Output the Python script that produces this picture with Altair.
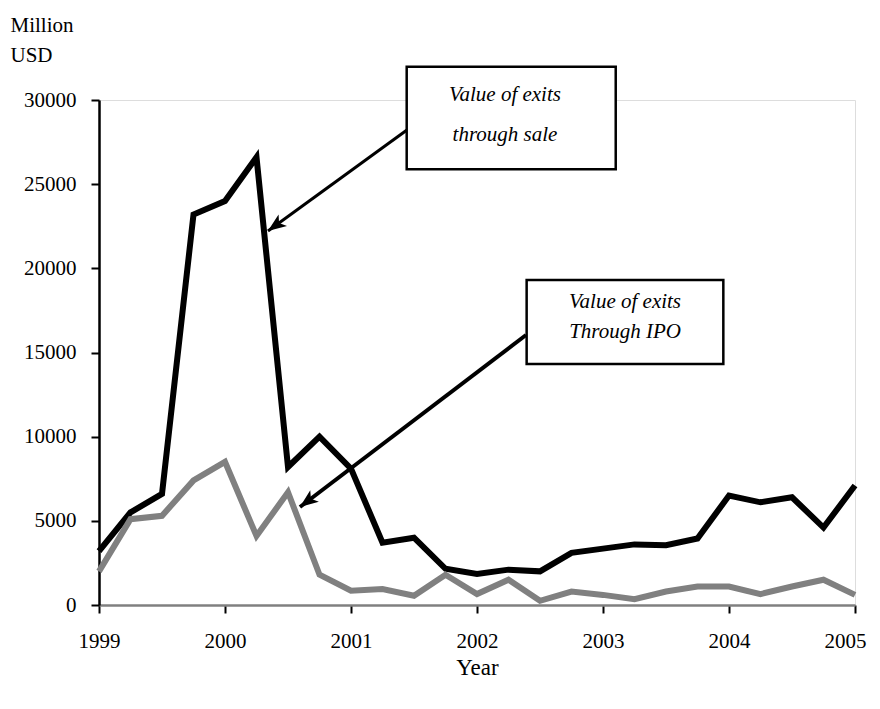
import altair as alt
import pandas as pd

# Quarterly periods, 1999 Q1 .. 2005 Q1
periods = ["1999Q1", "1999Q2", "1999Q3", "1999Q4",
           "2000Q1", "2000Q2", "2000Q3", "2000Q4",
           "2001Q1", "2001Q2", "2001Q3", "2001Q4",
           "2002Q1", "2002Q2", "2002Q3", "2002Q4",
           "2003Q1", "2003Q2", "2003Q3", "2003Q4",
           "2004Q1", "2004Q2", "2004Q3", "2004Q4",
           "2005Q1"]

sale_values = [3200, 5500, 6600, 23200, 24000, 26600, 8200, 10000,
               8100, 3700, 4000, 2150, 1850, 2100, 2000, 3100,
               3350, 3600, 3550, 3950, 6500, 6100, 6400, 4600, 7100]

ipo_values = [2000, 5100, 5300, 7400, 8500, 4100, 6700, 1800,
              850, 950, 550, 1800, 650, 1500, 250, 800,
              600, 350, 800, 1100, 1100, 650, 1100, 1500, 600]

year_ticks = [1999, 2000, 2001, 2002, 2003, 2004, 2005]
value_ticks = [0, 5000, 10000, 15000, 20000, 25000, 30000]

# annotation boxes (data coordinates)
box_labels = [["Value of exits", "through sale"], ["Value of exits", "Through IPO"]]
box_x = [2001.442, 2002.394]
box_x2 = [2003.101, 2003.955]
box_y = [31980, 19308]
box_y2 = [25885, 14318]
text_x = [2002.222, 2003.175]
text_y1 = [30300, 18001]
text_y2 = [27923, 16219]

# arrows (start at box, end at series)
arrow_x = [2001.444, 2002.389]
arrow_y = [28220, 16040]
arrow_x2 = [2000.341, 2000.595]
arrow_y2 = [22220, 5820]
arrow_w = [3, 4]
head_x = [2000.406, 2000.659]
head_y = [22570, 6185]
head_angle = [234, 233]


def to_year(p):
    return int(p[:4]) + (int(p[5]) - 1) / 4


df = pd.DataFrame({
    "t": [to_year(p) for p in periods] * 2,
    "value": sale_values + ipo_values,
    "series": ["sale"] * len(periods) + ["ipo"] * len(periods),
})

FONT = "Liberation Serif"

xs = alt.Scale(domain=[1999, 2005], nice=False, zero=False)
ys = alt.Scale(domain=[0, 30000], nice=False)

x_axis = alt.Axis(values=year_ticks, format="d", title="Year", grid=False,
                  domainColor="#808080", domainWidth=2.5,
                  tickColor="black", tickWidth=2, tickSize=8,
                  labelFont=FONT, labelFontSize=21, labelColor="black",
                  labelPadding=17, labelFlush=False, labelOverlap=False,
                  labelOffset={"expr": "datum.value == 2005 ? -10 : 0"},
                  titleFont=FONT, titleFontSize=23,
                  titleFontWeight="normal", titleColor="black", titlePadding=5)
y_axis = alt.Axis(values=value_ticks, format="d", grid=False, title=["Million", "USD"],
                  domainColor="black", domainWidth=2.5,
                  tickColor="black", tickWidth=2, tickSize=8,
                  labelFont=FONT, labelFontSize=21, labelColor="black",
                  labelPadding=15, labelFlush=False, labelOverlap=False,
                  titleFont=FONT, titleFontSize=21,
                  titleFontWeight="normal", titleColor="black",
                  titleAngle=0, titleAlign="left", titleBaseline="alphabetic",
                  titleX=-89, titleY=-69, titleLineHeight=30)

base = alt.Chart(df)

sale_line = base.transform_filter(alt.datum.series == "sale").mark_line(
    color="black", strokeWidth=6, strokeJoin="miter"
).encode(
    x=alt.X("t:Q", scale=xs, axis=x_axis),
    y=alt.Y("value:Q", scale=ys, axis=y_axis),
)
ipo_line = base.transform_filter(alt.datum.series == "ipo").mark_line(
    color="#808080", strokeWidth=6, strokeJoin="miter"
).encode(
    x=alt.X("t:Q", scale=xs),
    y=alt.Y("value:Q", scale=ys),
)

ann = pd.DataFrame({
    "bx": box_x, "bx2": box_x2, "by": box_y, "by2": box_y2,
    "tx": text_x, "ty1": text_y1, "ty2": text_y2,
    "l1": [b[0] for b in box_labels], "l2": [b[1] for b in box_labels],
    "ax": arrow_x, "ay": arrow_y, "ax2": arrow_x2, "ay2": arrow_y2,
    "aw": arrow_w, "hx": head_x, "hy": head_y, "ha": head_angle,
})
abase = alt.Chart(ann)

arrows = abase.mark_rule(color="black").encode(
    x=alt.X("ax:Q", scale=xs), y=alt.Y("ay:Q", scale=ys),
    x2="ax2:Q", y2="ay2:Q",
    strokeWidth=alt.StrokeWidth("aw:Q", scale=None),
)
heads = abase.mark_point(
    shape="M0,-1L0.7,0.8L0,0.35L-0.7,0.8Z", filled=True, color="black",
    size=420, opacity=1,
).encode(
    x=alt.X("hx:Q", scale=xs), y=alt.Y("hy:Q", scale=ys),
    angle=alt.Angle("ha:Q", scale=None),
)
boxes = abase.mark_rect(fill="white", stroke="black", strokeWidth=2.5).encode(
    x=alt.X("bx:Q", scale=xs), x2="bx2:Q",
    y=alt.Y("by:Q", scale=ys), y2="by2:Q",
)
text1 = abase.mark_text(font=FONT, fontSize=21, fontStyle="italic",
                        align="center", baseline="middle", color="black").encode(
    x=alt.X("tx:Q", scale=xs), y=alt.Y("ty1:Q", scale=ys), text="l1:N",
)
text2 = abase.mark_text(font=FONT, fontSize=21, fontStyle="italic",
                        align="center", baseline="middle", color="black").encode(
    x=alt.X("tx:Q", scale=xs), y=alt.Y("ty2:Q", scale=ys), text="l2:N",
)

chart = alt.layer(sale_line, ipo_line, arrows, heads, boxes, text1, text2).properties(
    width=756, height=505,
    autosize=alt.AutoSizeParams(type="none"),
    padding={"left": 91, "top": 92, "right": 17, "bottom": 96},
).configure_view(
    stroke="#808080", strokeWidth=2.5,
).configure(background="white")

chart.save("out.html", embed_options={"renderer": "svg", "actions": False})
